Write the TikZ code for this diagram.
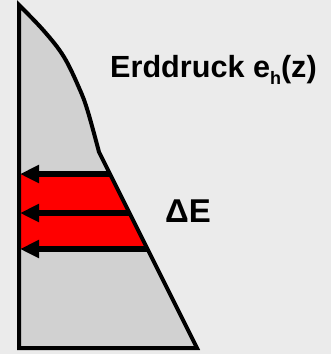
\documentclass[tikz,border=0pt]{standalone}
\usepackage{fontspec}
\setmainfont{Liberation Sans}
\usetikzlibrary{arrows.meta}
\definecolor{bg}{HTML}{EBEBEB}
\definecolor{shapefill}{HTML}{D1D1D1}
\definecolor{bandred}{HTML}{FF0000}
\begin{document}
\begin{tikzpicture}[x=1pt,y=-1pt,
  outline/.style={line width=4pt,line join=miter},
  force/.style={line width=5.5pt,-{Triangle[length=19pt,width=17pt]}},
  lbl/.style={anchor=base west,inner sep=0pt,font=\bfseries}]
\fill[bg] (0,0) rectangle (331,354);
\useasboundingbox (0,0) rectangle (331,354);
% coordinates
\coordinate (top) at (19,5);
\coordinate (kink) at (99,152);
\coordinate (br) at (197,348);
\coordinate (bl) at (19,348);
\coordinate (r1) at (110,174);
\coordinate (r2) at (129.5,213);
\coordinate (r3) at (147.5,249);
\coordinate (l1) at (19,174);
\coordinate (l2) at (19,213);
\coordinate (l3) at (19,249);
% body
\fill[shapefill] (bl) -- plot[smooth,tension=0.6] coordinates {(19,5) (44,31) (64,57) (80,90) (88,112) (99,152)} -- (br) -- cycle;
% red band
\fill[bandred] (l1) -- (r1) -- (r3) -- (l3) -- cycle;
% outline
\draw[outline] (bl) -- plot[smooth,tension=0.6] coordinates {(19,5) (44,31) (64,57) (80,90) (88,112) (99,152)} -- (br) -- cycle;
% arrows
\draw[force] (r1) -- ([xshift=1pt]l1);
\draw[force] (r2) -- ([xshift=1pt]l2);
\draw[force] (r3) -- ([xshift=1pt]l3);
% labels
\node[lbl,font=\fontsize{30.6}{34}\selectfont\bfseries] (eh) at (110,77) {Erddruck e\raisebox{-7pt}{\fontsize{18}{18}\selectfont h}(z)};
\node[lbl,font=\fontsize{33}{38}\selectfont\bfseries] (dE) at (165,222) {ΔE};
\end{tikzpicture}
\end{document}
